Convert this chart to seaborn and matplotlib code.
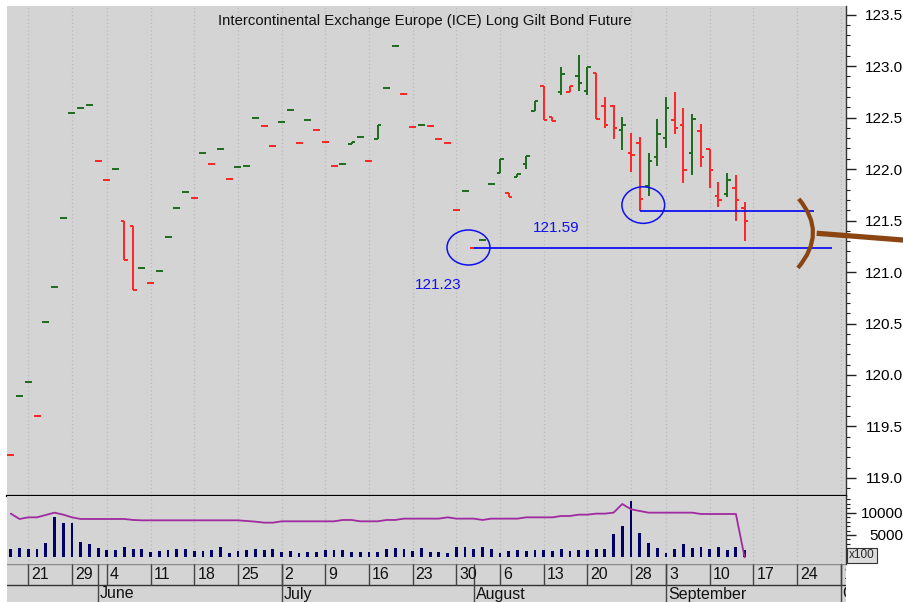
import numpy as np
import pandas as pd
import matplotlib
matplotlib.use("Agg")
import matplotlib.pyplot as plt
import matplotlib.ticker as mticker
from matplotlib.patches import Ellipse, PathPatch
from matplotlib.path import Path
import seaborn as sns

# ---------------- data ----------------
holidays = ["2018-05-28", "2018-08-27"]
calendar = pd.bdate_range("2018-05-17", "2018-10-05", freq="C", holidays=holidays)
n_days = 85
dates = calendar[:n_days]

opens = [119.22, 119.80, 119.93, 119.60, 120.51, 120.85, 121.52, 122.54, 122.59, 122.62,
         122.08, 121.89, 122.00, 121.50, 121.45, 121.04, 120.89, 121.01, 121.34, 121.62,
         121.78, 121.72, 122.16, 122.05, 122.19, 121.90, 122.02, 122.03, 122.50, 122.42,
         122.22, 122.46, 122.57, 122.25, 122.48, 122.38, 122.26, 122.03, 122.05, 122.24,
         122.31, 122.08, 122.29, 122.79, 123.19, 122.73, 122.41, 122.43, 122.42, 122.29,
         122.25, 121.60, 121.79, 121.23, 121.31, 121.85, 121.96, 121.77, 121.92, 122.05,
         122.56, 122.81, 122.51, 122.745, 122.745, 122.90, 122.76, 122.93, 122.61, 122.615,
         122.38, 122.155, 122.255, 121.84, 122.12, 122.30, 122.48, 122.43, 122.155, 122.37,
         122.19, 121.74, 121.76, 121.82, 121.62]
highs = [119.22, 119.80, 119.93, 119.60, 120.51, 120.85, 121.52, 122.54, 122.59, 122.62,
         122.08, 121.89, 122.00, 121.50, 121.45, 121.04, 120.89, 121.01, 121.34, 121.62,
         121.78, 121.72, 122.16, 122.05, 122.19, 121.90, 122.02, 122.03, 122.50, 122.42,
         122.22, 122.46, 122.57, 122.25, 122.48, 122.38, 122.26, 122.03, 122.05, 122.26,
         122.31, 122.08, 122.43, 122.79, 123.19, 122.73, 122.41, 122.43, 122.42, 122.29,
         122.25, 121.60, 121.79, 121.23, 121.31, 121.85, 122.10, 121.77, 121.95, 122.13,
         122.66, 122.81, 122.51, 122.99, 122.81, 123.11, 122.99, 122.93, 122.70, 122.62,
         122.51, 122.35, 122.31, 122.16, 122.49, 122.70, 122.75, 122.59, 122.53, 122.44,
         122.19, 121.87, 121.96, 121.94, 121.68]
lows = [119.22, 119.80, 119.93, 119.60, 120.51, 120.85, 121.52, 122.54, 122.59, 122.62,
        122.08, 121.89, 122.00, 121.12, 120.83, 121.04, 120.89, 121.01, 121.34, 121.62,
        121.78, 121.72, 122.16, 122.05, 122.19, 121.90, 122.02, 122.03, 122.50, 122.42,
        122.22, 122.46, 122.57, 122.25, 122.48, 122.38, 122.26, 122.03, 122.05, 122.24,
        122.31, 122.08, 122.29, 122.79, 123.19, 122.73, 122.41, 122.43, 122.42, 122.29,
        122.25, 121.60, 121.79, 121.23, 121.31, 121.85, 121.96, 121.73, 121.92, 122.00,
        122.56, 122.48, 122.47, 122.72, 122.745, 122.76, 122.72, 122.49, 122.40, 122.29,
        122.18, 121.97, 121.59, 121.74, 122.03, 122.20, 122.34, 121.86, 121.94, 122.02,
        121.82, 121.63, 121.73, 121.50, 121.30]
closes = [119.22, 119.80, 119.93, 119.60, 120.51, 120.85, 121.52, 122.54, 122.59, 122.62,
          122.08, 121.89, 122.00, 121.12, 120.83, 121.04, 120.89, 121.01, 121.34, 121.62,
          121.78, 121.72, 122.16, 122.05, 122.19, 121.90, 122.02, 122.03, 122.50, 122.42,
          122.22, 122.46, 122.57, 122.25, 122.48, 122.38, 122.26, 122.03, 122.05, 122.26,
          122.31, 122.08, 122.43, 122.79, 123.19, 122.73, 122.41, 122.43, 122.42, 122.29,
          122.25, 121.60, 121.79, 121.23, 121.31, 121.85, 122.10, 121.73, 121.95, 122.13,
          122.66, 122.48, 122.47, 122.92, 122.81, 122.84, 122.99, 122.49, 122.43, 122.40,
          122.43, 122.14, 121.71, 122.08, 122.34, 122.59, 122.40, 121.99, 122.49, 122.12,
          121.99, 121.70, 121.89, 121.70, 121.50]
prev_close = 119.40  # close of the session before the first bar

volume = [1870, 2090, 1870, 1870, 3290, 9110, 7690, 7690, 3510, 2990,
          2170, 1570, 1640, 2320, 1870, 1870, 1270, 1420, 1640, 1870,
          1790, 1340, 1490, 1570, 2320, 970, 1420, 1640, 1870, 1720,
          1870, 1270, 1490, 1050, 1270, 1270, 1570, 1570, 1570, 1270,
          1200, 1270, 1120, 1870, 2090, 1790, 1340, 2090, 1200, 1200,
          1050, 2320, 2240, 1790, 2320, 1870, 1050, 1420, 1570, 1420,
          1570, 1570, 1340, 1870, 1420, 1640, 1640, 1870, 1940, 5150,
          7100, 12620, 5530, 3290, 2090, 1050, 1870, 2990, 2090, 2320,
          1790, 2390, 1570, 2390, 1720]
open_interest = [9790, 8590, 8960, 8960, 9490, 10010, 9560, 8960, 8590, 8590,
                 8590, 8590, 8590, 8590, 8370, 8290, 8290, 8290, 8290, 8290,
                 8290, 8290, 8290, 8290, 8290, 8290, 8290, 8140, 7990, 7770,
                 7770, 8070, 8070, 8070, 8070, 8070, 8070, 8070, 8370, 8370,
                 8070, 8070, 8070, 8370, 8370, 8670, 8670, 8670, 8670, 8670,
                 8960, 8670, 8670, 8670, 8370, 8670, 8670, 8670, 8670, 8960,
                 8960, 8960, 8960, 9260, 9260, 9560, 9560, 9790, 9790, 10010,
                 11950, 10760, 10380, 10010, 10010, 10010, 10010, 10010, 10010, 9710,
                 9710, 9710, 9710, 9710, 0]

title = "Intercontinental Exchange Europe (ICE) Long Gilt Bond Future"
support_levels = [121.23, 121.59]
support_labels = ["121.23", "121.59"]
month_names = ["June", "July", "August", "September", "October"]

# ---------------- style ----------------
sns.set_style("white")
plt.rcParams["font.family"] = ["Liberation Sans", "DejaVu Sans"]

PANEL = "#d4d4d4"
GREEN = "#1c6b1c"
RED = "#ff2424"
BLUE = "#1010f0"
BROWN = "#8b4513"
VOLC = "#000066"
OIC = "#a02aa0"
GRIDC = "#b9b9b9"

W, H = 904, 602
fig = plt.figure(figsize=(W / 100, H / 100), dpi=100)
fig.patch.set_facecolor("white")


def fx(px):
    return px / W


def fy(py):
    return 1 - py / H


X0, X1 = 7, 846
DAY0, DAYW = 10.8, 8.736       # pixel of first session, pixels per session
xlim = ((X0 - DAY0) / DAYW, (X1 - DAY0) / DAYW)

ax = fig.add_axes([fx(X0), fy(496), fx(X1) - fx(X0), fy(6) - fy(496)])
axv = fig.add_axes([fx(X0), fy(564), fx(X1) - fx(X0), fy(496) - fy(564)])
axd = fig.add_axes([fx(X0), 0, fx(X1) - fx(X0), fy(564)])
for a in (ax, axv, axd):
    a.set_facecolor(PANEL)
    a.set_xlim(*xlim)

idx = np.arange(n_days)
o = np.array(opens); h = np.array(highs); l = np.array(lows); c = np.array(closes)
prev = np.concatenate([[prev_close], c[:-1]])
colors = np.where(c > prev, GREEN, RED)

# calendar structure
cal_idx = np.arange(len(calendar))
week_key = calendar.to_period("W")
week_starts = [i for i in cal_idx[1:] if week_key[i] != week_key[i - 1]]
month_starts = [i for i in cal_idx[1:] if calendar[i].month != calendar[i - 1].month]

# ---------------- main price panel ----------------
for i in week_starts:
    ax.axvline(i, color=GRIDC, lw=0.9, ls=(0, (1, 2)), zorder=0)

ax.vlines(idx, l, h, colors=colors, lw=1.4, zorder=3)
ax.hlines(o, idx - 0.40, idx, colors=colors, lw=1.4, zorder=3)
ax.hlines(c, idx, idx + 0.40, colors=colors, lw=1.4, zorder=3)

ax.set_ylim(118.825, 123.583)
ax.set_xticks([])
ax.yaxis.tick_right()
ax.set_yticks(np.arange(119.0, 123.51, 0.5))
ax.yaxis.set_major_formatter(mticker.FormatStrFormatter("%.1f"))
ax.yaxis.set_minor_locator(mticker.MultipleLocator(0.1))
ax.tick_params(axis="y", which="major", direction="out", length=7, width=1,
               pad=34, labelsize=11, colors="#222222", labelcolor="black")
ax.tick_params(axis="y", which="minor", direction="out", length=3, width=0.8, colors="#222222")
for t in ax.get_yticklabels():
    t.set_horizontalalignment("right")
for s in ("top", "left"):
    ax.spines[s].set_visible(False)
ax.spines["bottom"].set_color("black")
ax.spines["bottom"].set_linewidth(1.6)
ax.spines["right"].set_color("#333333")
ax.spines["right"].set_linewidth(1.0)

ax.text(0.498, 0.969, title, transform=ax.transAxes, ha="center", va="center",
        fontsize=10.7, color="#111111")

# support annotations
i_aug1 = int(np.argmin(np.abs(c - support_levels[0])))
i_aug29 = int(np.argmin(np.abs(l - support_levels[1])))
line_ends = [93.97, 91.94]
ax.hlines(support_levels[0], i_aug1, line_ends[0], colors=BLUE, lw=1.3, zorder=4)
ax.hlines(support_levels[1], i_aug29, line_ends[1], colors=BLUE, lw=1.3, zorder=4)
ax.add_patch(Ellipse((52.39, 121.238), 4.92, 0.34, fill=False, ec=BLUE, lw=1.1, zorder=4))
ax.add_patch(Ellipse((72.40, 121.650), 4.89, 0.355, fill=False, ec=BLUE, lw=1.1, zorder=4))
ax.text(48.9, 120.874, support_labels[0], color=BLUE, fontsize=11, ha="center", va="center")
ax.text(62.4, 121.427, support_labels[1], color=BLUE, fontsize=11, ha="center", va="center")

# brown bracket and pointer
bracket = Path([(90.2, 121.71), (93.5, 121.38), (90.1, 121.04)],
               [Path.MOVETO, Path.CURVE3, Path.CURVE3])
ax.add_patch(PathPatch(bracket, fill=False, ec=BROWN, lw=3.0, capstyle="butt", zorder=5))
ax.plot([92.25, 102.2], [121.376, 121.31], color=BROWN, lw=3.8, solid_capstyle="butt",
        clip_on=False, zorder=5)

# ---------------- volume panel ----------------
for i in week_starts:
    axv.axvline(i, color=GRIDC, lw=0.9, ls=(0, (1, 2)), zorder=0)
vol_df = pd.DataFrame({"day": idx, "volume": volume, "oi": open_interest})
sns.barplot(data=vol_df, x="day", y="volume", native_scale=True, width=0.32,
            color=VOLC, saturation=1, linewidth=0, errorbar=None, ax=axv, zorder=3)
sns.lineplot(data=vol_df, x="day", y="oi", color=OIC, lw=1.3, ax=axv, zorder=4)
axv.set_xlim(*xlim)
axv.set_ylim(-1502, 13744)
axv.set_xlabel("")
axv.set_ylabel("")
axv.set_xticks([])
axv.yaxis.tick_right()
axv.set_yticks([5000, 10000])
axv.yaxis.set_major_formatter(mticker.FormatStrFormatter("%d"))
axv.yaxis.set_minor_locator(mticker.MultipleLocator(1000))
axv.tick_params(axis="y", which="major", direction="out", length=7, width=1,
                pad=34, labelsize=11, colors="#222222", labelcolor="black")
axv.tick_params(axis="y", which="minor", direction="out", length=3, width=0.8, colors="#222222")
for t in axv.get_yticklabels():
    t.set_horizontalalignment("right")
for s in ("top", "left", "bottom"):
    axv.spines[s].set_visible(False)
axv.spines["right"].set_color("#333333")
axv.spines["right"].set_linewidth(1.0)
axv.set_ylim(-1502, 13744)

fig.text(fx(862), fy(555.5), "x100", ha="center", va="center", fontsize=8.5,
         bbox=dict(boxstyle="square,pad=0.15", fc="#dcdcdc", ec="#333333", lw=0.8))

# ---------------- date band ----------------
axd.set_ylim(0, 38)
axd.set_xticks([]); axd.set_yticks([])
for s in axd.spines.values():
    s.set_visible(False)
axd.axhline(17, color="#333333", lw=1.0)
axd.axhline(37.6, color="#8a8a8a", lw=1.0)
axd.vlines(week_starts, 17, 38, colors="#444444", lw=1.0)
axd.vlines(month_starts, 0, 38, colors="#444444", lw=1.0)
for i in week_starts:
    t = axd.annotate(str(calendar[i].day), xy=(i, 27.5), xytext=(3, 0),
                     textcoords="offset pixels", ha="left", va="center",
                     fontsize=11.5, color="#111111")
    t.set_clip_box(axd.bbox)
    t.set_clip_on(True)
for i, name in zip(month_starts, month_names):
    t = axd.annotate(name, xy=(i, 8.0), xytext=(2, 0), textcoords="offset pixels",
                     ha="left", va="center", fontsize=11.5, color="#111111")
    t.set_clip_box(axd.bbox)
    t.set_clip_on(True)

fig.savefig("out.png", dpi=100)
